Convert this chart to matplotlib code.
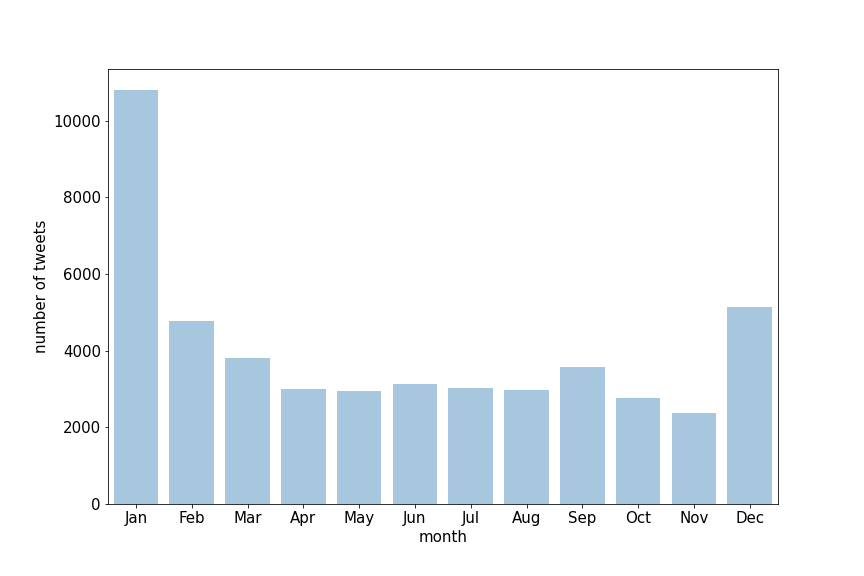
import numpy as np
from matplotlib import pyplot as plt

# Dados ----------------------------->>>>>
months = ['Jan', 'Feb', 'Mar', 'Apr', 'May', 'Jun',
          'Jul', 'Aug', 'Sep', 'Oct', 'Nov', 'Dec']
tweets = [10810, 4785, 3815, 3000, 2948, 3131,
          3026, 2975, 3578, 2764, 2370, 5140]

# Figura ----------------------------->>>>>
fig, ax = plt.subplots(figsize=(12, 8), dpi=72)
fig.subplots_adjust(left=0.125, right=0.9, top=0.88, bottom=0.125)

x = np.arange(len(months))
ax.bar(x, tweets, width=0.8, color='#a6c7de')

ax.set_xticks(x)
ax.set_xticklabels(months)
ax.set_xlim(-0.5, len(months) - 0.5)
ax.set_ylim(0, 11350)
ax.set_yticks(np.arange(0, 10001, 2000))

ax.tick_params(labelsize=15)
ax.set_xlabel('month', fontsize=15)
ax.set_ylabel('number of tweets', fontsize=15)

plt.savefig('out.png', dpi=72)
